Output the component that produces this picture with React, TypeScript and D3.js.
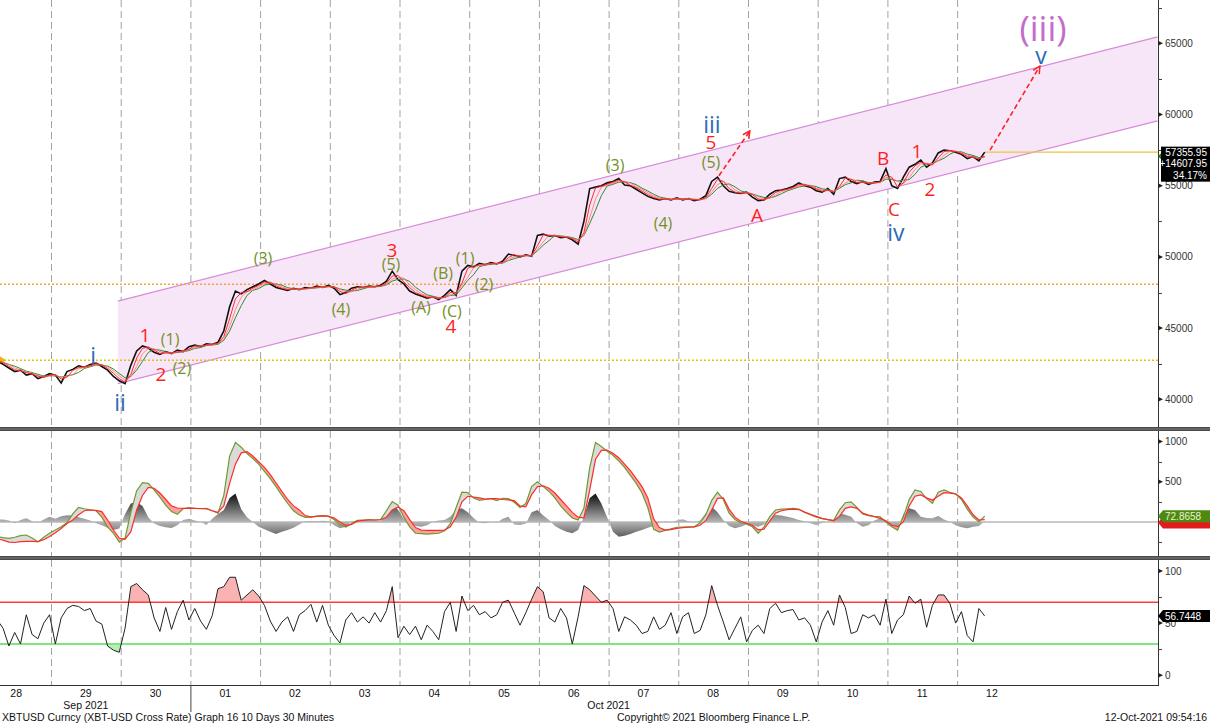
'use client'
import React, { useRef, useEffect } from 'react'
import * as d3 from 'd3'

const W = 1210
const H = 723
const AXIS_X = 1158

// 2 hour samples: first 28 Sep 05:30, last 12 Oct 09:30 (UTC)
const START = Date.UTC(2021, 8, 28, 5, 30)
const STEP = 2 * 3600 * 1000

const price = [
  42700, 42450, 42200, 41950, 42050, 41700, 41800, 41450, 41600, 41800,
  41700, 41150, 41950, 42100, 42350, 42250, 42450, 42550, 42300, 42050, 41600, 41300,
  41100, 42400, 43400, 43750, 43600, 43300, 43150, 43350, 43200, 43450, 43350, 43700,
  43800, 43700, 43900, 43850, 44000, 44800, 46500, 47600, 47400, 47700, 47900, 48100,
  48350, 48100, 47850, 47750, 47650, 47800, 47700, 47850, 47800, 47950, 47850, 48000,
  47800, 47350, 47500, 47800, 47900, 47850, 47950, 47900, 48000, 48300, 49000, 48400,
  48100, 47600, 47400, 47250, 47100, 47200, 47000, 47300, 47700, 47300, 49000, 49400,
  49300, 49550, 49450, 49600, 49500, 49700, 50200, 50100, 50000, 50150, 50050, 51500,
  51600, 51450, 51500, 51350, 51400, 51200, 50900, 52500, 54800, 54900, 55000, 55200,
  55300, 55500, 55050, 55000, 54750, 54500, 54250, 54100, 54000, 54100, 54000, 54150,
  54000, 54100, 53950, 54050, 54300, 55300, 55600, 55000, 54600, 54500, 54450, 54550,
  54200, 53950, 54000, 54400, 54650, 54700, 54800, 54950, 55200, 55000, 54900, 54650,
  54550, 54800, 54400, 55500, 55600, 55300, 55150, 55300, 55100, 55250, 55300, 56200,
  55000, 54800, 55600, 56300, 56500, 56800, 56300, 56600, 57300, 57500, 57450, 57350,
  57200, 56900, 57050, 56750, 57355.95,
]

const macdLine = [
  -183, -195, -203, -190, -170, -162, -200, -245, -190, -141,
  -100, -60, -10, 100, 182, 165, 150, 140, 60, -60, -140, -250,
  -200, 120, 390, 490, 480, 400, 310, 210, 130, 95, 165, 180,
  170, 165, 170, 140, 110, 330, 820, 990, 930, 850, 790, 720,
  630, 540, 440, 330, 230, 140, 87, 58, 60, 72, 80, 70,
  30, -30, -62, -20, 20, 25, 30, 25, 30, 140, 255, 210,
  60, -60, -140, -145, -150, -145, -140, -110, -20, 180, 370, 365,
  300, 270, 280, 290, 265, 295, 290, 245, 180, 230, 440, 500,
  440, 380, 300, 200, 120, 50, 25, 170, 680, 990, 940, 880,
  830, 760, 680, 580, 480, 360, 180, -90, -125, -105, -85, -65,
  -62, -60, -60, -10, 90, 270, 370, 280, 110, 30, -10, -25,
  -60, -141, -60, 66, 149, 160, 165, 170, 160, 120, 90, 60,
  40, 30, 20, 150, 240, 250, 180, 100, 80, 70, 65, 0,
  -60, -100, 60, 280, 398, 380, 290, 232, 370, 398, 370, 350,
  280, 160, 60, 4, 72.8658,
]

const signalLine = [
  -211, -225, -250, -255, -245, -240, -240, -245, -220, -180,
  -133, -80, -20, 25, 90, 140, 149, 145, 130, 25, -100, -200,
  -216, -120, 150, 330, 430, 420, 360, 280, 200, 174, 170, 170,
  170, 168, 165, 140, 120, 200, 480, 720, 860, 875, 820, 750,
  680, 590, 485, 380, 280, 200, 150, 80, 65, 70, 75, 72,
  50, 0, -45, -30, 10, 20, 25, 25, 28, 60, 150, 187,
  140, 30, -70, -100, -105, -105, -105, -100, -60, 60, 250, 320,
  311, 300, 285, 290, 290, 280, 275, 265, 200, 190, 340, 440,
  450, 420, 360, 280, 200, 120, 60, 50, 400, 780, 890, 895,
  855, 800, 720, 640, 540, 440, 300, 40, -70, -100, -95, -80,
  -70, -65, -60, -40, 20, 150, 294, 300, 160, 60, 10, -15,
  -40, -95, -90, 10, 110, 140, 155, 160, 155, 125, 95, 70,
  45, 30, 15, 70, 170, 187, 170, 110, 85, 65, 45, 15,
  -40, -58, 0, 200, 320, 336, 300, 274, 320, 365, 360, 348,
  300, 200, 90, 25, 30,
]

const macdHist = [
  33, 30, 20, -17, 25, 46, 10, -8, 30, 66,
  40, 70, 85, 80, 60, 40, 20, -17, -40, -70, -100, -80,
  100, 230, 250, 200, 60, -20, -50, -66, -75, -40, 25, 40,
  20, 4, -37, 40, 100, 149, 300, 356, 160, 60, 0, -60,
  -90, -120, -149, -120, -100, -70, -30, 10, 12, 10, 15, 10,
  -40, -79, -60, 10, 15, 20, 15, 20, 10, 120, 253, 150,
  40, -20, -50, -58, -40, 4, 20, 25, 66, 150, 170, 120,
  50, -10, -17, 0, -10, 40, 66, -30, -37, -20, 120, 149,
  80, 25, -50, -90, -120, -141, -100, 66, 300, 356, 230, 60,
  -120, -183, -170, -150, -120, -100, -70, -50, -10, 10, -5, 20,
  33, 10, -5, 20, 108, 191, 120, 25, -50, -79, -60, -30,
  -40, -58, -30, 66, 87, 80, 66, 50, 25, 10, -17, -37,
  -10, 4, 4, 108, 90, 66, -17, -58, -40, 20, 46, 10,
  -50, -79, 100, 170, 150, 66, 50, 46, 74, 30, 4, -40,
  -66, -79, -60, -50, 10,
]

const rsiLine = [
  53, 45, 28, 41, 30, 58, 39, 35, 50, 58,
  30, 55, 64, 67, 66, 62, 64, 52, 49, 28, 24, 22,
  45, 85, 88, 82, 77, 55, 42, 65, 44, 61, 72, 53,
  64, 52, 44, 57, 83, 85, 94, 94, 72, 77, 82, 76,
  67, 52, 42, 51, 56, 42, 58, 62, 68, 51, 67, 48,
  38, 31, 53, 60, 51, 56, 50, 60, 51, 62, 85, 36,
  47, 39, 47, 34, 48, 42, 34, 61, 70, 42, 76, 62,
  67, 58, 61, 55, 58, 70, 72, 60, 48, 60, 73, 85,
  80, 55, 51, 64, 55, 30, 56, 86, 82, 76, 70, 72,
  64, 42, 56, 53, 48, 40, 42, 56, 44, 48, 60, 40,
  56, 60, 40, 43, 58, 86, 67, 51, 34, 45, 56, 32,
  43, 48, 40, 64, 69, 60, 62, 63, 53, 55, 48, 32,
  51, 62, 48, 77, 65, 40, 42, 58, 55, 58, 48, 73,
  40, 53, 58, 76, 69, 73, 46, 67, 77, 77, 69, 50,
  61, 38, 32, 64, 56.7448,
]

const priceTicks = [40000, 45000, 50000, 55000, 60000, 65000]
const priceMinor = [42500, 47500, 52500, 57500, 62500, 67500]
const macdTicks = [500, 1000]
const macdMinor = [-250, 0, 250, 750]
const rsiTicks = [0, 50, 100]
const rsiMinor = [25, 75]
const rsiBands = [30, 70]

const firstPrice = 42748
const lastPrice = 57355.95
const refLevel = 48080

const channelDates = ['2021-09-29T23:00:00Z', '2021-10-14T21:00:00Z']
const channelUpper = [46900, 65450]
const channelLower = [41100, 59550]

const waves = [
  { t: '2021-09-29T14:30:00Z', p: 43100, text: 'i', kind: 'blue' },
  { t: '2021-09-29T23:45:00Z', p: 39810, text: 'ii', kind: 'blue' },
  { t: '2021-09-30T08:20:00Z', p: 44500, text: '1', kind: 'red' },
  { t: '2021-09-30T13:50:00Z', p: 41780, text: '2', kind: 'red' },
  { t: '2021-09-30T17:00:00Z', p: 44230, text: '(1)', kind: 'green' },
  { t: '2021-09-30T21:05:00Z', p: 42200, text: '(2)', kind: 'green' },
  { t: '2021-10-02T01:00:00Z', p: 49920, text: '(3)', kind: 'green' },
  { t: '2021-10-03T03:50:00Z', p: 46340, text: '(4)', kind: 'green' },
  { t: '2021-10-03T21:25:00Z', p: 50480, text: '3', kind: 'red' },
  { t: '2021-10-03T21:05:00Z', p: 49500, text: '(5)', kind: 'green' },
  { t: '2021-10-04T07:25:00Z', p: 46480, text: '(A)', kind: 'green' },
  { t: '2021-10-04T15:00:00Z', p: 48870, text: '(B)', kind: 'green' },
  { t: '2021-10-04T18:05:00Z', p: 46200, text: '(C)', kind: 'green' },
  { t: '2021-10-04T17:45:00Z', p: 45150, text: '4', kind: 'red' },
  { t: '2021-10-04T22:35:00Z', p: 49920, text: '(1)', kind: 'green' },
  { t: '2021-10-05T05:05:00Z', p: 48100, text: '(2)', kind: 'green' },
  { t: '2021-10-07T02:15:00Z', p: 56460, text: '(3)', kind: 'green' },
  { t: '2021-10-07T18:45:00Z', p: 52390, text: '(4)', kind: 'green' },
  { t: '2021-10-08T11:15:00Z', p: 56670, text: '(5)', kind: 'green' },
  { t: '2021-10-08T11:15:00Z', p: 58070, text: '5', kind: 'red' },
  { t: '2021-10-08T11:35:00Z', p: 59340, text: 'iii', kind: 'blue' },
  { t: '2021-10-09T03:05:00Z', p: 52950, text: 'A', kind: 'red' },
  { t: '2021-10-10T22:30:00Z', p: 56950, text: 'B', kind: 'red' },
  { t: '2021-10-11T02:15:00Z', p: 53370, text: 'C', kind: 'red' },
  { t: '2021-10-11T02:55:00Z', p: 51750, text: 'iv', kind: 'blue' },
  { t: '2021-10-11T10:10:00Z', p: 57440, text: '1', kind: 'red' },
  { t: '2021-10-11T14:40:00Z', p: 54770, text: '2', kind: 'red' },
  { t: '2021-10-13T04:55:00Z', p: 64180, text: 'v', kind: 'blue' },
  { t: '2021-10-13T05:35:00Z', p: 66080, text: '(iii)', kind: 'purple' },
]

const arrows = [
  { t0: '2021-10-08T14:00:00Z', p0: 55700, t1: '2021-10-09T00:40:00Z', p1: 58850 },
  { t0: '2021-10-12T11:20:00Z', p0: 57500, t1: '2021-10-13T04:30:00Z', p1: 63400 },
]

const waveStyle = {
  blue: { fill: '#2b6cb4', size: 23 },
  red: { fill: '#ff1f1f', size: 19 },
  green: { fill: '#72921f', size: 16 },
  purple: { fill: '#c36ccb', size: 35 },
}

const FONT = '"Liberation Sans", Arial, sans-serif'

const sma = (arr, n) =>
  arr.map((_, i) => d3.mean(arr.slice(Math.max(0, i - n + 1), i + 1)))

const App = () => {
  const svgRef = useRef(null)

  useEffect(() => {
    const svg = d3.select(svgRef.current)
    svg.selectAll('*').remove()

    const times = price.map((_, i) => new Date(START + i * STEP))
    const lastTime = times[times.length - 1]

    const x = d3
      .scaleUtc()
      .domain([d3.isoParse('2021-09-29T00:00:00Z'), d3.isoParse('2021-10-12T00:00:00Z')])
      .range([51, 957.1])
    const yP = d3.scaleLinear().domain([40000, 65000]).range([399.3, 43.3])
    const yM = d3.scaleLinear().domain([0, 1000]).range([522, 441.6])
    const yR = d3.scaleLinear().domain([0, 100]).range([675.2, 571])

    const panels = [
      { top: 0, bottom: 427 },
      { top: 431, bottom: 556 },
      { top: 560, bottom: 685 },
    ]

    svg.append('rect').attr('width', W).attr('height', H).attr('fill', '#fff')

    const defs = svg.append('defs')
    panels.forEach((p, i) => {
      defs
        .append('clipPath')
        .attr('id', `clip${i}`)
        .append('rect')
        .attr('x', 0)
        .attr('y', p.top)
        .attr('width', AXIS_X)
        .attr('height', p.bottom - p.top)
    })

    const grad = defs
      .append('linearGradient')
      .attr('id', 'histGrad')
      .attr('gradientUnits', 'userSpaceOnUse')
      .attr('x1', 0)
      .attr('x2', 0)
      .attr('y1', yM(320))
      .attr('y2', yM(-320))
    grad.append('stop').attr('offset', 0).attr('stop-color', '#1c1c1c')
    grad.append('stop').attr('offset', 0.5).attr('stop-color', '#b5b5b5')
    grad.append('stop').attr('offset', 1).attr('stop-color', '#1c1c1c')

    defs
      .append('marker')
      .attr('id', 'arrowHead')
      .attr('viewBox', '0 0 10 10')
      .attr('refX', 9)
      .attr('refY', 5)
      .attr('markerWidth', 9)
      .attr('markerHeight', 9)
      .attr('markerUnits', 'userSpaceOnUse')
      .attr('orient', 'auto')
      .append('path')
      .attr('d', 'M1,1 L9,5 L1,9')
      .attr('fill', 'none')
      .attr('stroke', '#ff2020')
      .attr('stroke-width', 1.6)

    // ---- day grid lines
    const days = d3.utcDay.range(d3.isoParse('2021-09-29T00:00:00Z'), d3.isoParse('2021-10-13T00:00:00Z'))
    panels.forEach((p) => {
      svg
        .append('g')
        .selectAll('line')
        .data(days)
        .enter()
        .append('line')
        .attr('x1', (d) => x(d) + 0.5)
        .attr('x2', (d) => x(d) + 0.5)
        .attr('y1', p.top)
        .attr('y2', p.bottom)
        .attr('stroke', '#a3a3a3')
        .attr('stroke-dasharray', '7,4')
    })

    // ---- price panel
    const g1 = svg.append('g').attr('clip-path', 'url(#clip0)')
    const c0 = x(d3.isoParse(channelDates[0]))
    const c1 = x(d3.isoParse(channelDates[1]))
    g1.append('path')
      .attr(
        'd',
        `M${c0},${yP(channelUpper[0])}L${c1},${yP(channelUpper[1])}L${c1},${yP(channelLower[1])}L${c0},${yP(channelLower[0])}Z`,
      )
      .attr('fill', '#f7e6f7')
    ;[channelUpper, channelLower].forEach((edge) => {
      g1.append('line')
        .attr('x1', c0)
        .attr('y1', yP(edge[0]))
        .attr('x2', c1)
        .attr('y2', yP(edge[1]))
        .attr('stroke', '#d68cd9')
        .attr('stroke-width', 1.2)
    })

    g1.append('line')
      .attr('x1', 0)
      .attr('x2', AXIS_X)
      .attr('y1', yP(refLevel))
      .attr('y2', yP(refLevel))
      .attr('stroke', '#f3a53c')
      .attr('stroke-width', 1.5)
      .attr('stroke-dasharray', '2,2')
    g1.append('line')
      .attr('x1', 0)
      .attr('x2', AXIS_X)
      .attr('y1', yP(firstPrice))
      .attr('y2', yP(firstPrice))
      .attr('stroke', '#e4bf1c')
      .attr('stroke-width', 1.5)
      .attr('stroke-dasharray', '2,2')
    g1.append('line')
      .attr('x1', x(lastTime))
      .attr('x2', AXIS_X)
      .attr('y1', yP(lastPrice))
      .attr('y2', yP(lastPrice))
      .attr('stroke', '#e9c445')
      .attr('stroke-width', 1.2)

    const fy = yP(firstPrice)
    g1.append('path').attr('d', `M0,${fy - 4}L6,${fy}L0,${fy + 4}Z`).attr('fill', '#e8b90a')

    const pLine = d3
      .line()
      .x((d, i) => x(times[i]))
      .y((d) => yP(d))
    g1.append('path').attr('d', pLine(price)).attr('fill', 'none').attr('stroke', '#111').attr('stroke-width', 1.6)
    g1.append('path').attr('d', pLine(sma(price, 4))).attr('fill', 'none').attr('stroke', '#2e8b2e').attr('stroke-width', 1)
    g1.append('path').attr('d', pLine(sma(price, 3))).attr('fill', 'none').attr('stroke', '#ff7a7a').attr('stroke-width', 0.9)
    g1.append('path').attr('d', pLine(sma(price, 2))).attr('fill', 'none').attr('stroke', '#ff2a2a').attr('stroke-width', 1)

    arrows.forEach((a) => {
      svg
        .append('line')
        .attr('x1', x(d3.isoParse(a.t0)))
        .attr('y1', yP(a.p0))
        .attr('x2', x(d3.isoParse(a.t1)))
        .attr('y2', yP(a.p1))
        .attr('stroke', '#ff2020')
        .attr('stroke-width', 1.6)
        .attr('stroke-dasharray', '5,3')
        .attr('marker-end', 'url(#arrowHead)')
    })

    svg
      .append('g')
      .selectAll('text')
      .data(waves)
      .enter()
      .append('text')
      .attr('x', (d) => x(d3.isoParse(d.t)))
      .attr('y', (d) => yP(d.p))
      .attr('text-anchor', 'middle')
      .attr('dominant-baseline', 'central')
      .attr('font-family', '"Open Sans", "Noto Sans", sans-serif')
      .attr('font-size', (d) => waveStyle[d.kind].size)
      .attr('fill', (d) => waveStyle[d.kind].fill)
      .text((d) => d.text)

    // ---- MACD panel
    const g2 = svg.append('g').attr('clip-path', 'url(#clip1)')
    const tx = (d, i) => x(times[i])
    g2.append('line')
      .attr('x1', 0)
      .attr('x2', AXIS_X)
      .attr('y1', yM(0))
      .attr('y2', yM(0))
      .attr('stroke', '#b9b9b9')
      .attr('stroke-width', 1.5)
    g2.append('path')
      .attr('d', d3.area().x(tx).y0(yM(0)).y1((d) => yM(d))(macdHist))
      .attr('fill', 'url(#histGrad)')

    defs
      .append('clipPath')
      .attr('id', 'aboveSignal')
      .append('path')
      .attr('d', d3.area().x(tx).y0(panels[1].top).y1((d) => yM(d))(signalLine))
    defs
      .append('clipPath')
      .attr('id', 'belowSignal')
      .append('path')
      .attr('d', d3.area().x(tx).y0((d) => yM(d)).y1(panels[1].bottom)(signalLine))

    const band = d3
      .area()
      .x(tx)
      .y0((d, i) => yM(signalLine[i]))
      .y1((d) => yM(d))
    g2.append('g').attr('clip-path', 'url(#aboveSignal)').append('path').attr('d', band(macdLine)).attr('fill', '#dadada')
    g2.append('g').attr('clip-path', 'url(#belowSignal)').append('path').attr('d', band(macdLine)).attr('fill', '#ffa0a0')

    const mLine = d3.line().x(tx).y((d) => yM(d))
    g2.append('path').attr('d', mLine(macdLine)).attr('fill', 'none').attr('stroke', '#6d9b30').attr('stroke-width', 1.2)
    g2.append('path').attr('d', mLine(signalLine)).attr('fill', 'none').attr('stroke', '#ff2b2b').attr('stroke-width', 1.2)

    // ---- RSI panel
    const g3 = svg.append('g').attr('clip-path', 'url(#clip2)')
    defs
      .append('clipPath')
      .attr('id', 'overbought')
      .append('rect')
      .attr('x', 0)
      .attr('y', panels[2].top)
      .attr('width', AXIS_X)
      .attr('height', yR(rsiBands[1]) - panels[2].top)
    defs
      .append('clipPath')
      .attr('id', 'oversold')
      .append('rect')
      .attr('x', 0)
      .attr('y', yR(rsiBands[0]))
      .attr('width', AXIS_X)
      .attr('height', panels[2].bottom - yR(rsiBands[0]))
    g3.append('g')
      .attr('clip-path', 'url(#overbought)')
      .append('path')
      .attr('d', d3.area().x(tx).y0(yR(rsiBands[1])).y1((d) => yR(d))(rsiLine))
      .attr('fill', '#f9b3b3')
    g3.append('g')
      .attr('clip-path', 'url(#oversold)')
      .append('path')
      .attr('d', d3.area().x(tx).y0(yR(rsiBands[0])).y1((d) => yR(d))(rsiLine))
      .attr('fill', '#b3f0b3')
    g3.append('line')
      .attr('x1', 0)
      .attr('x2', AXIS_X)
      .attr('y1', yR(rsiBands[1]))
      .attr('y2', yR(rsiBands[1]))
      .attr('stroke', '#ff3b3b')
      .attr('stroke-width', 1.3)
    g3.append('line')
      .attr('x1', 0)
      .attr('x2', AXIS_X)
      .attr('y1', yR(rsiBands[0]))
      .attr('y2', yR(rsiBands[0]))
      .attr('stroke', '#7fe57f')
      .attr('stroke-width', 2)
    g3.append('path')
      .attr('d', d3.line().x(tx).y((d) => yR(d))(rsiLine))
      .attr('fill', 'none')
      .attr('stroke', '#222')
      .attr('stroke-width', 1)

    // ---- frame, separators, axes
    svg.append('line').attr('x1', AXIS_X + 0.5).attr('x2', AXIS_X + 0.5).attr('y1', 0).attr('y2', 686).attr('stroke', '#333')
    svg.append('line').attr('x1', 0).attr('x2', AXIS_X + 1).attr('y1', 685.5).attr('y2', 685.5).attr('stroke', '#333')
    ;[427, 556].forEach((y) => {
      svg.append('rect').attr('x', 0).attr('y', y).attr('width', W).attr('height', 4).attr('fill', '#4b4b4b')
      svg.append('line').attr('x1', 0).attr('x2', W).attr('y1', y + 2).attr('y2', y + 2).attr('stroke', '#8a8a8a').attr('stroke-width', 0.8)
    })

    const drawTicks = (scale, majors, minors, labels) => {
      const g = svg.append('g')
      minors.forEach((v) => {
        g.append('line')
          .attr('x1', AXIS_X)
          .attr('x2', AXIS_X + 4)
          .attr('y1', Math.round(scale(v)) + 0.5)
          .attr('y2', Math.round(scale(v)) + 0.5)
          .attr('stroke', '#444')
      })
      majors.forEach((v) => {
        const y = scale(v)
        g.append('path').attr('d', `M${AXIS_X},${y - 2.5}L${AXIS_X + 5},${y}L${AXIS_X},${y + 2.5}Z`).attr('fill', '#222')
        if (labels)
          g.append('text')
            .attr('x', AXIS_X + 7)
            .attr('y', y)
            .attr('dominant-baseline', 'central')
            .attr('font-family', FONT)
            .attr('font-size', 10)
            .attr('fill', '#333')
            .text(v)
      })
    }
    drawTicks(yP, priceTicks, priceMinor, true)
    drawTicks(yM, macdTicks, macdMinor, true)
    drawTicks(yR, rsiTicks, rsiMinor, true)

    // last value boxes
    const py = yP(lastPrice)
    svg.append('path').attr('d', `M${AXIS_X},${py + 4}L${AXIS_X + 4},${py}L${AXIS_X + 4},${py + 8}Z`).attr('fill', '#2c7a00')
    svg.append('rect').attr('x', 1161).attr('y', py - 5.5).attr('width', W - 1161).attr('height', 35).attr('fill', '#000')
    ;[d3.format('.2f')(lastPrice), `+${d3.format('.2f')(lastPrice - firstPrice)}`, `${d3.format('.2f')(((lastPrice - firstPrice) / firstPrice) * 100)}%`].forEach(
      (s, i) => {
        svg
          .append('text')
          .attr('x', 1207)
          .attr('y', py + i * 11.5)
          .attr('text-anchor', 'end')
          .attr('dominant-baseline', 'central')
          .attr('font-family', FONT)
          .attr('font-size', 10)
          .attr('fill', '#fff')
          .text(s)
      },
    )

    const tag = (y, fill, textFill, label) => {
      svg
        .append('path')
        .attr('d', `M${AXIS_X},${y}L${AXIS_X + 5},${y - 6}L${W},${y - 6}L${W},${y + 6}L${AXIS_X + 5},${y + 6}Z`)
        .attr('fill', fill)
      if (label)
        svg
          .append('text')
          .attr('x', AXIS_X + 7)
          .attr('y', y)
          .attr('dominant-baseline', 'central')
          .attr('font-family', FONT)
          .attr('font-size', 10)
          .attr('fill', textFill)
          .text(label)
    }
    tag(yM(signalLine[signalLine.length - 1]) + 3, '#e21c1c', '#fff', '')
    tag(yM(macdLine[macdLine.length - 1]), '#4f8a10', '#e8f2d8', d3.format('.4f')(macdLine[macdLine.length - 1]))
    tag(yR(rsiLine[rsiLine.length - 1]), '#000', '#fff', d3.format('.4f')(rsiLine[rsiLine.length - 1]))

    // x axis
    const labelDays = d3.utcDay.range(d3.isoParse('2021-09-28T00:00:00Z'), d3.isoParse('2021-10-13T00:00:00Z'))
    const noon = (d) => x(d3.utcHour.offset(d, 12))
    svg
      .append('g')
      .selectAll('text')
      .data(labelDays)
      .enter()
      .append('text')
      .attr('x', noon)
      .attr('y', 697)
      .attr('text-anchor', 'middle')
      .attr('font-family', FONT)
      .attr('font-size', 10.5)
      .attr('fill', '#111')
      .text(d3.utcFormat('%d'))

    const oct1 = d3.isoParse('2021-10-01T00:00:00Z')
    svg.append('line').attr('x1', x(oct1) + 0.5).attr('x2', x(oct1) + 0.5).attr('y1', 685).attr('y2', 712).attr('stroke', '#444')

    const months = d3.groups(labelDays, d3.utcFormat('%b %Y'))
    months.forEach(([name, ds]) => {
      svg
        .append('text')
        .attr('x', (noon(ds[0]) + noon(ds[ds.length - 1])) / 2)
        .attr('y', 709)
        .attr('text-anchor', 'middle')
        .attr('font-family', FONT)
        .attr('font-size', 10.5)
        .attr('fill', '#111')
        .text(name)
    })

    const footer = [
      { x: 2, anchor: 'start', text: 'XBTUSD Curncy (XBT-USD Cross Rate) Graph 16 10 Days 30 Minutes' },
      { x: 617, anchor: 'start', text: 'Copyright\u00a9 2021 Bloomberg Finance L.P.' },
      { x: 1207, anchor: 'end', text: '12-Oct-2021 09:54:16' },
    ]
    footer.forEach((f) => {
      svg
        .append('text')
        .attr('x', f.x)
        .attr('y', 720.5)
        .attr('text-anchor', f.anchor)
        .attr('font-family', FONT)
        .attr('font-size', 10.5)
        .attr('fill', '#111')
        .text(f.text)
    })
  }, [])

  return (
    <div style={{ position: 'absolute', left: 0, top: 0, width: W, height: H }}>
      <svg ref={svgRef} width={W} height={H} style={{ display: 'block' }} />
    </div>
  )
}

export default App
